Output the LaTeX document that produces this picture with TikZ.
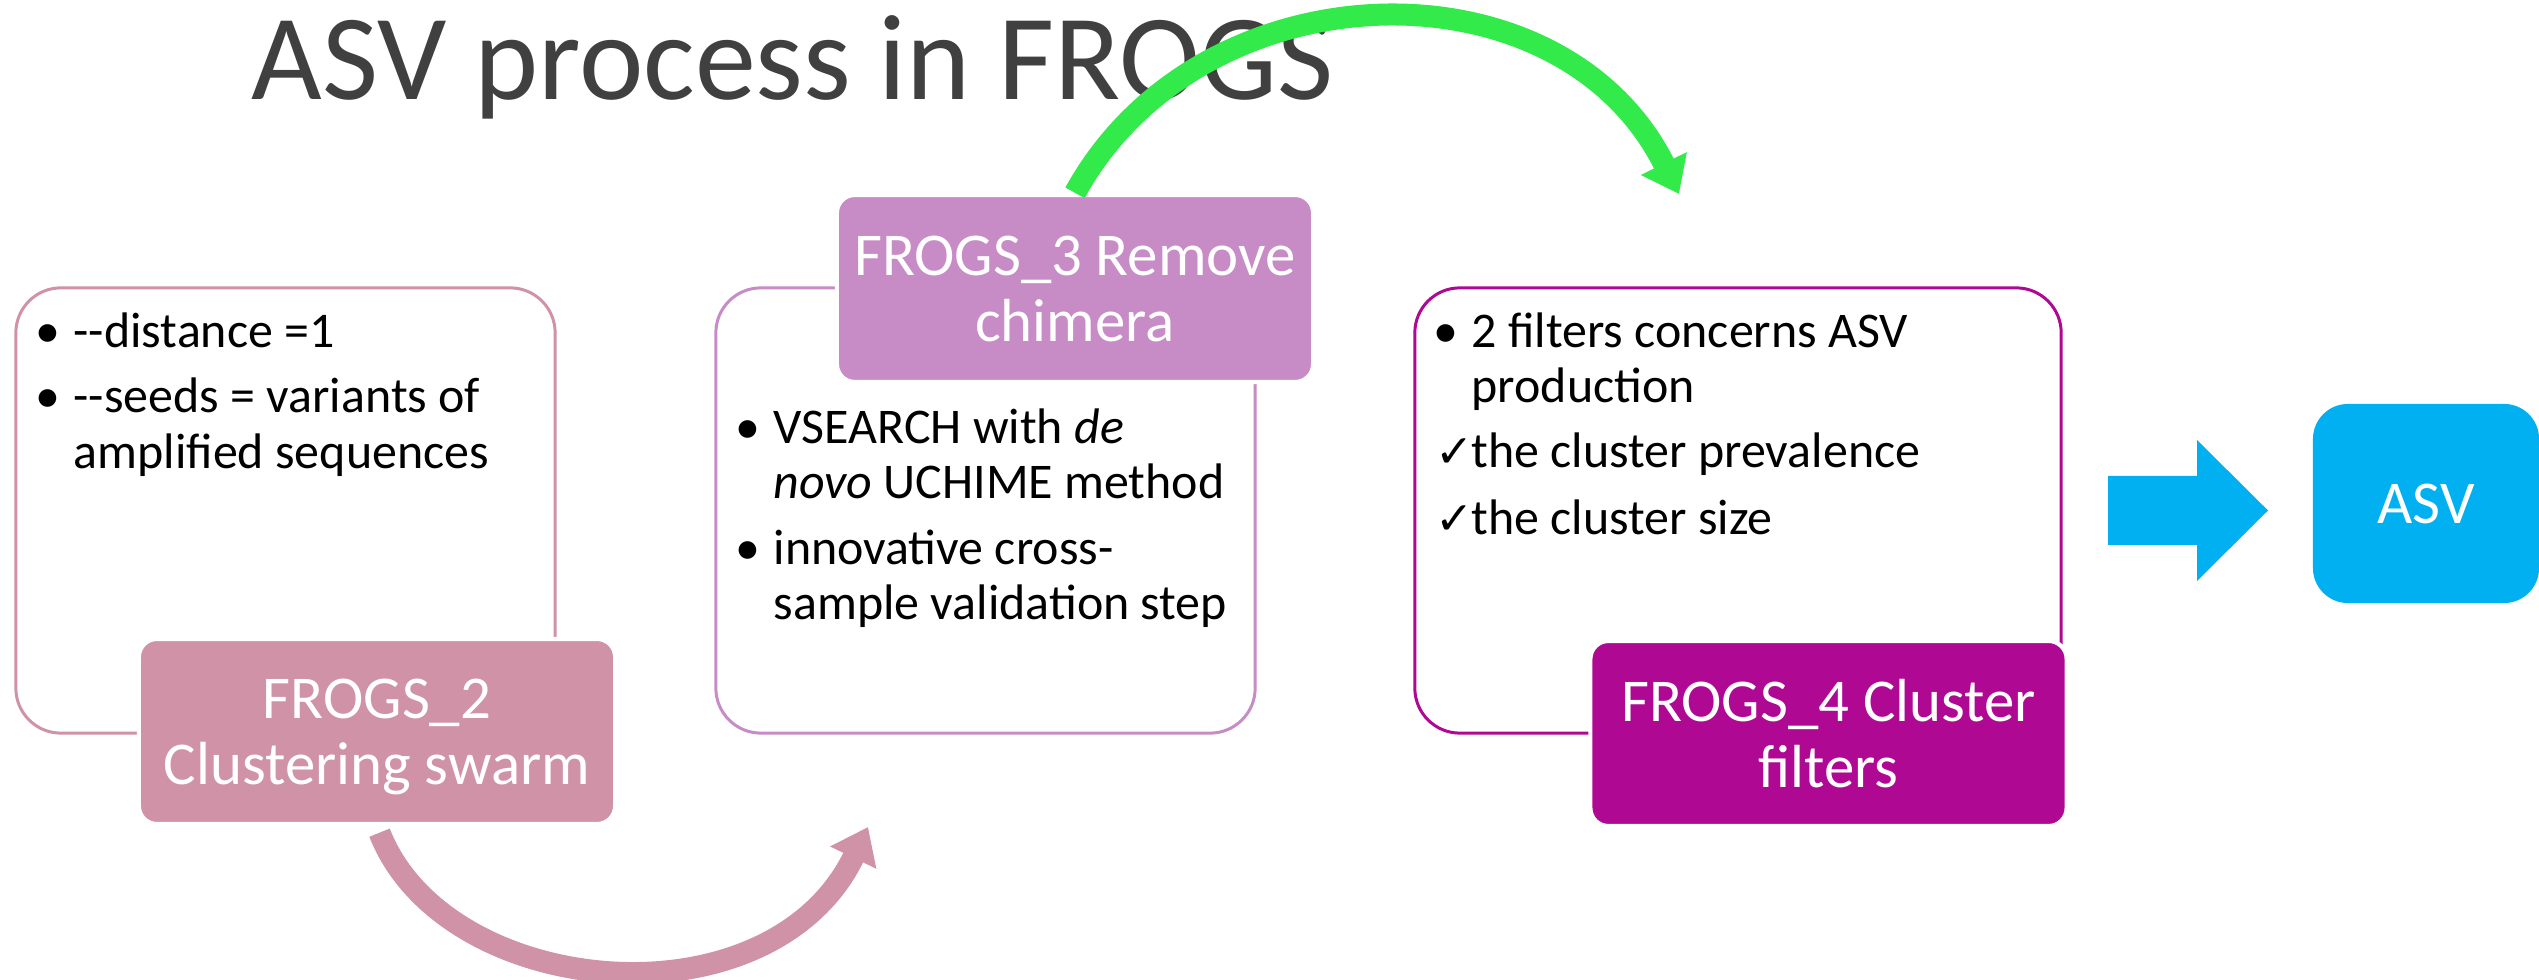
\documentclass[tikz,border=0pt]{standalone}
\usepackage{fontspec}
\setmainfont{Carlito}
\newfontfamily\symbolfont{DejaVu Sans}
\usetikzlibrary{arrows.meta}
\definecolor{swarmpink}{RGB}{208,146,167}
\definecolor{chimorchid}{RGB}{199,139,198}
\definecolor{filtmagenta}{RGB}{175,9,148}
\definecolor{asvblue}{RGB}{0,176,240}
\definecolor{jumpgreen}{RGB}{50,234,74}
\definecolor{titlegray}{RGB}{64,64,64}

\begin{document}
\begin{tikzpicture}[x=0.01cm, y=-0.01cm,
    panel/.style={draw, line width=0.85pt, fill=white, rounded corners=0.45cm, inner sep=0pt,
        minimum width=5.39cm, minimum height=4.45cm},
    tag/.style={draw=white, line width=1.2pt, rounded corners=0.18cm, text=white, align=center,
        inner sep=0pt, text depth=0pt, minimum width=4.76cm, minimum height=1.85cm,
        font=\fontsize{17.3}{18.8}\selectfont},
    txt/.style={anchor=base west, inner sep=0pt, font=\fontsize{14.2}{15.6}\selectfont},
    dot/.style={anchor=base, inner sep=0pt, font=\fontsize{14.2}{15.6}\selectfont},
    tick/.style={anchor=base west, inner sep=0pt, font=\symbolfont\fontsize{13}{14}\selectfont},
    flow/.style={line width=0.22cm, -{Triangle[length=0.34cm, width=0.49cm]}}]
    \useasboundingbox (0,0) rectangle (2539,980);
    \fill[white] (0,0) rectangle (2539,980);

    % Title
    \node[anchor=base west, inner sep=0pt, text=titlegray, font=\fontsize{34.7}{40}\selectfont] (title) at (251,100) {ASV process in FROGS};

    % Step panels
    \node[panel, draw=swarmpink] (swarmbox) at (285.5,510.5) {};
    \node[panel, draw=chimorchid] (chimbox) at (985.5,510.5) {};
    \node[panel, draw=filtmagenta, minimum width=6.46cm] (filtbox) at (1738,510.5) {};

    % Step tags
    \node[tag, fill=swarmpink] (swarm) at (377,731.5) {FROGS\_2\\Clustering swarm};
    \node[tag, fill=chimorchid, minimum height=1.87cm] (chimera) at (1075,288.5) {FROGS\_3 Remove\\chimera};
    \node[tag, fill=filtmagenta] (filters) at (1828.5,733.5) {FROGS\_4 Cluster\\filters};

    % Bullets
    \foreach \x/\y [count=\i] in {48/348, 48/413, 748/444, 748/565, 1446/348} {
        \node[dot] (dot\i) at (\x,\y) {\textbullet};
    }
    \node[tick] (tick1) at (1435,468) {✓};
    \node[tick] (tick2) at (1435,535) {✓};

    % Panel texts
    \node[txt] (swarm1) at (73,348) {-\kern0pt-distance =1};
    \node[txt] (swarm2) at (73,413) {-\kern0pt-seeds = variants of};
    \node[txt] (swarm3) at (73,469) {amplified sequences};

    \node[txt] (chim1) at (773,444) {VSEARCH with \textit{de}};
    \node[txt] (chim2) at (773,499) {\textit{novo} UCHIME method};
    \node[txt] (chim3) at (773,565) {innovative cross-};
    \node[txt] (chim4) at (773,620) {sample validation step};

    \node[txt] (filt1) at (1471,348) {2 filters concerns ASV};
    \node[txt] (filt2) at (1471,403) {production};
    \node[txt] (filt3) at (1471,468) {the cluster prevalence};
    \node[txt] (filt4) at (1471,535) {the cluster size};

    % Result
    \fill[asvblue] (2108,476) -- (2197,476) -- (2197,440) -- (2268,510.5) -- (2197,581) -- (2197,545) -- (2108,545) -- cycle;
    \node[fill=asvblue, rounded corners=0.35cm, minimum width=2.26cm, minimum height=1.99cm, inner sep=0pt,
        text=white, font=\fontsize{17.3}{18.8}\selectfont] (asv) at (2426,503.5) {ASV};

    % Curved arrows
    \coordinate (swarmend) at (868,827);
    \coordinate (chimend) at (1679,194);
    \draw[flow, swarmpink, shorten <=0.07cm] (swarm.south) .. controls (445,1000) and (770,1030) .. (swarmend);
    \draw[flow, jumpgreen] (chimera.north) .. controls (1200,-35) and (1560,-45) .. (chimend);
\end{tikzpicture}
\end{document}
